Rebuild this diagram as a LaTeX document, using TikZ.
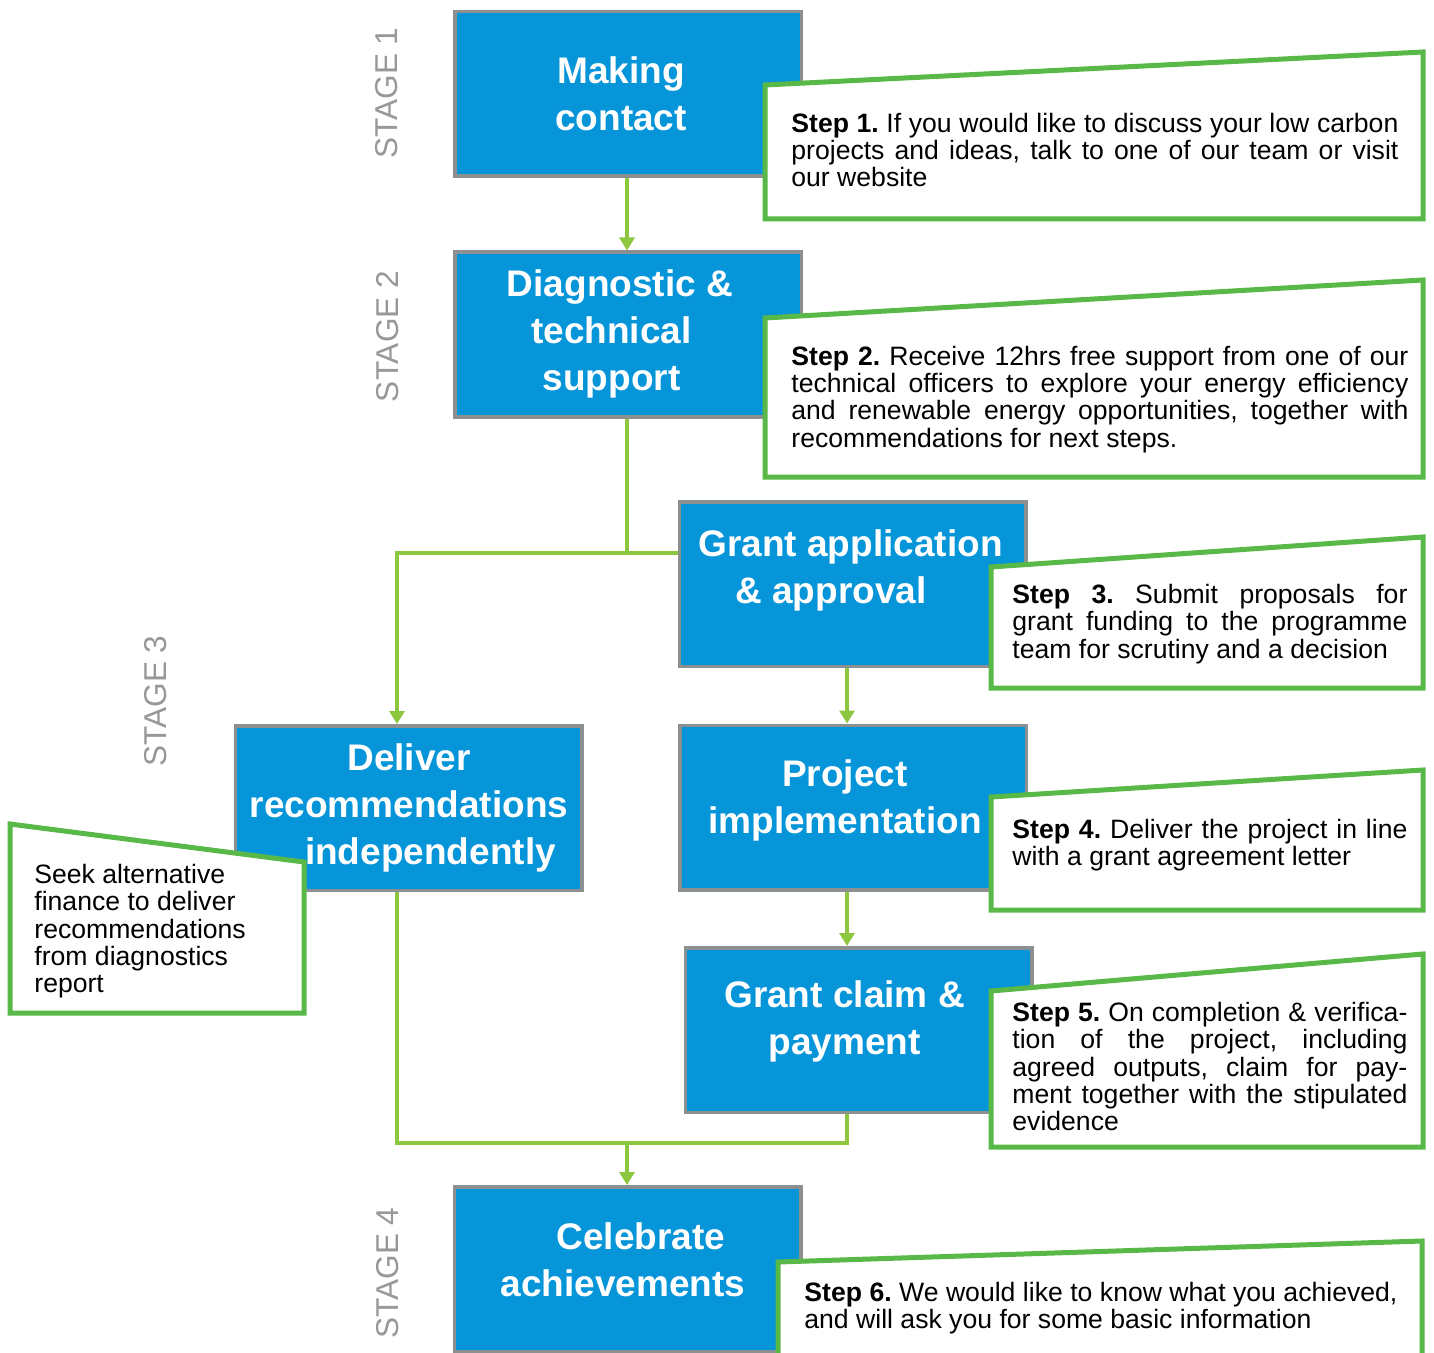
\documentclass[tikz,border=0pt]{standalone}
\usepackage{fontspec}
\setmainfont{Liberation Sans}
\usetikzlibrary{arrows.meta}

\definecolor{boxblue}{RGB}{7,149,217}
\definecolor{boxgray}{RGB}{140,144,144}
\definecolor{stepgreen}{RGB}{88,184,72}
\definecolor{flowgreen}{RGB}{141,198,63}
\definecolor{stagegray}{RGB}{152,152,152}

\setlength{\parindent}{0pt}
\tolerance=10000
\hbadness=10000
\hyphenpenalty=10000
\frenchspacing

\newcommand{\topline}{\rule{0pt}{1em}}
\newcommand{\stepno}[1]{\topline\textbf{Step #1.}}

\tikzset{
  stagebox/.style={draw=boxgray, line width=1.75pt, fill=boxblue,
    minimum width=173.25pt, minimum height=82.25pt, inner sep=0pt},
  boxtext/.style={text=white, font=\bfseries\fontsize{18.5}{23.5}\selectfont,
    align=center, inner sep=0pt},
  callout/.style={draw=stepgreen, line width=2.5pt, fill=white},
  steptext/.style={anchor=north west, inner sep=0pt, align=justify,
    font=\fontsize{13.3}{13.65}\selectfont},
  stagelabel/.style={rotate=90, text=stagegray, inner sep=0pt,
    font=\fontsize{15.8}{18}\selectfont},
  link/.style={draw=flowgreen, line width=2pt},
  flow/.style={link, -{Triangle[width=7.5pt,length=6.5pt]}}
}

\begin{document}
\begin{tikzpicture}[x=0.5pt, y=-0.5pt]
\useasboundingbox (0,0) rectangle (1434,1353);

\node[stagebox] (1) at (628,94) {};
\node[stagebox] (2) at (628,334.5) {};
\node[stagebox] (3) at (852.5,584) {};
\node[stagebox] (4) at (408.5,808) {};
\node[stagebox] (5) at (853,807.5) {};
\node[stagebox] (6) at (858.5,1030) {};
\node[stagebox] (7) at (627.5,1269) {};

\node[boxtext] (1t) at (621,93.3) {Making\\contact};
\node[boxtext] (2t) at (611.5,334.4) {\hspace*{8.5pt}Diagnostic \&\\technical\\support};
\node[boxtext] (3t) at (831,570.9) {\hspace*{19.5pt}Grant application\\\& approval};
\node[boxtext] (4t) at (409,807.9) {Deliver\\recommendations\\\hspace*{21.5pt}independently};
\node[boxtext] (5t) at (845,800.4) {Project\\implementation};
\node[boxtext] (6t) at (844.5,1021.4) {Grant claim \&\\payment};
\node[boxtext] (7t) at (623,1260.2) {\hspace*{18pt}Celebrate\\achievements};

\coordinate (colL) at (397,0);
\coordinate (colM) at (627,0);
\coordinate (colR) at (847,0);
\coordinate (split) at (627,553);
\coordinate (join) at (627,1143);

\draw[flow] (1.south -| colM) -- (2.north -| colM);
\draw[link] (2.south -| colM) -- (split) -- (split -| 3.west);
\draw[flow] (split) -| (4.north -| colL);
\draw[flow] (3.south -| colR) -- (5.north -| colR);
\draw[flow] (5.south -| colR) -- (6.north -| colR);
\draw[link] (4.south -| colL) |- (join) -| (6.south -| colR);
\draw[flow] (join) -- (7.north -| colM);

\draw[callout] (765,85) -- (1423,52) -- (1423,219) -- (765,219) -- cycle;
\node[steptext, text width=303.5pt] (s1) at (791,105.4)
  {\stepno{1} If you would like to discuss your low carbon\linebreak
   projects and ideas, talk to one of our team or visit\linebreak
   our website};

\draw[callout] (765,318) -- (1423,280) -- (1423,477) -- (765,477) -- cycle;
\node[steptext, text width=308.5pt] (s2) at (791,338.4)
  {\stepno{2} Receive 12hrs free support from one of our\linebreak
   technical officers to explore your energy efficiency\linebreak
   and renewable energy opportunities, together with\linebreak
   recommendations for next steps.};

\draw[callout] (991,567) -- (1423,537) -- (1423,688) -- (991,688) -- cycle;
\node[steptext, text width=197.5pt] (s3) at (1012,576.4)
  {\stepno{3} Submit proposals for\linebreak
   grant funding to the programme\linebreak
   team for scrutiny and a decision};

\draw[callout] (991,797) -- (1423,770) -- (1423,910) -- (991,910) -- cycle;
\node[steptext, text width=197.5pt] (s4) at (1012,811.4)
  {\stepno{4} Deliver the project in line\linebreak
   with a grant agreement letter};

\draw[callout] (991,991) -- (1423,954) -- (1423,1147) -- (991,1147) -- cycle;
\node[steptext, text width=197.5pt] (s5) at (1012,994.4)
  {\stepno{5} On completion \& verifica-\linebreak
   tion of the project, including\linebreak
   agreed outputs, claim for pay-\linebreak
   ment together with the stipulated\linebreak
   evidence};

\draw[callout] (778,1262) -- (1422,1241) -- (1422,1370) -- (778,1370) -- cycle;
\node[steptext, text width=296.5pt] (s6) at (804,1274.4)
  {\stepno{6} We would like to know what you achieved,\linebreak
   and will ask you for some basic information};

\draw[callout] (10,824) -- (304,862) -- (304,1013) -- (10,1013) -- cycle;
\node[steptext, align=left] (seek) at (34,856.4)
  {\topline Seek alternative\\finance to deliver\\recommendations\\from diagnostics\\report};

\node[stagelabel] (st1) at (387,93) {STAGE 1};
\node[stagelabel] (st2) at (387.5,336.5) {STAGE 2};
\node[stagelabel] (st3) at (155.5,701) {STAGE 3};
\node[stagelabel] (st4) at (388,1273) {STAGE 4};
\end{tikzpicture}
\end{document}
